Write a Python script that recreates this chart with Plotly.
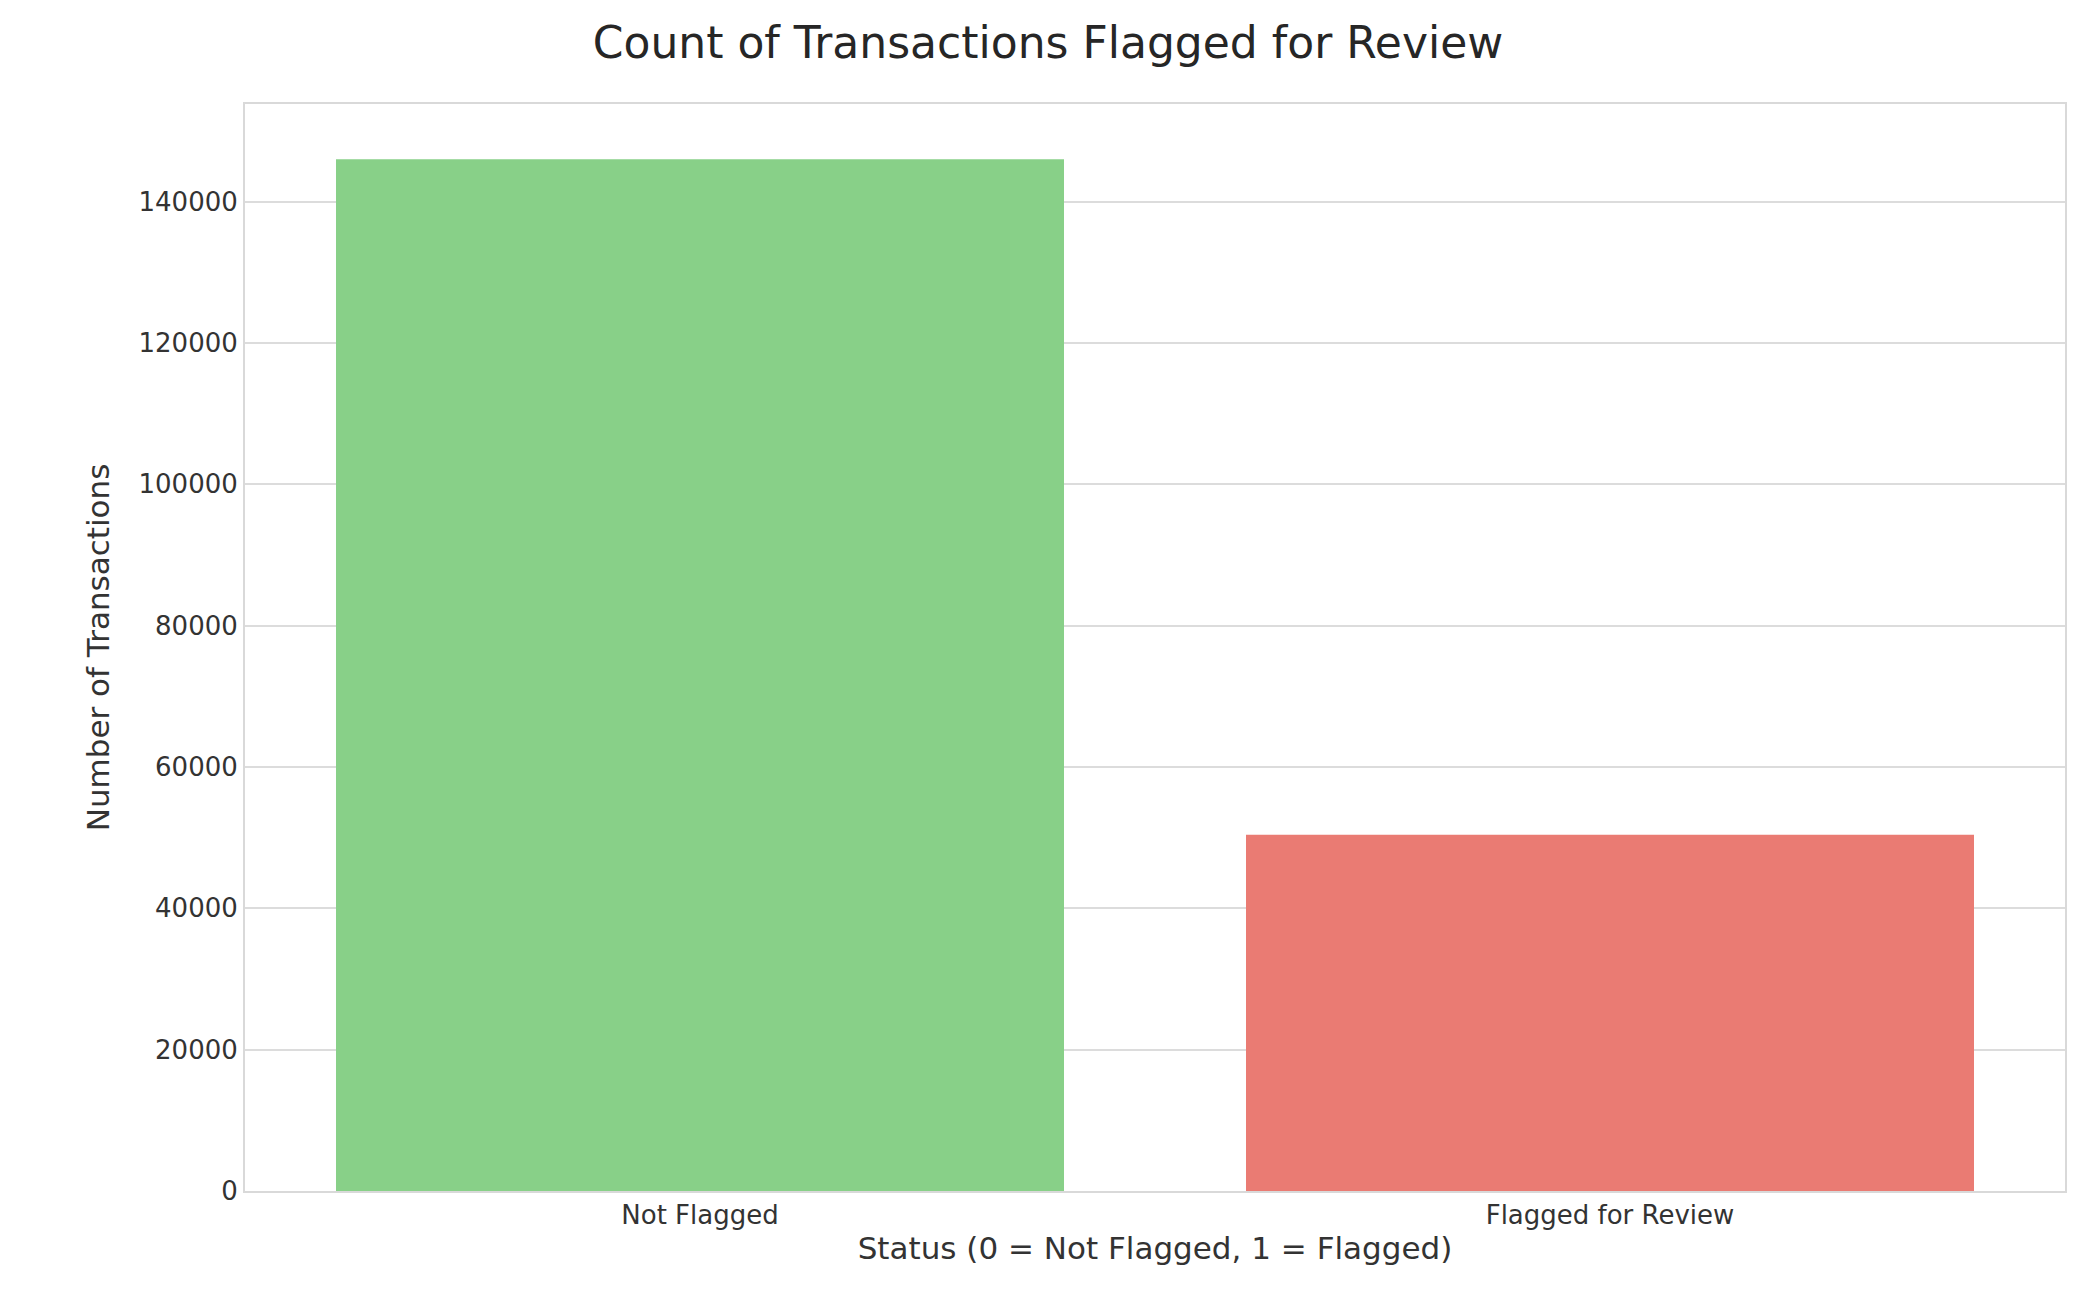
import plotly.graph_objects as go

categories = ["Not Flagged", "Flagged for Review"]
counts = [146000, 50400]
colors = ["#88d088", "#ea7b73"]

fig = go.Figure(go.Bar(x=categories, y=counts, marker_color=colors,
                       marker_line_width=0, width=0.8))
font = "DejaVu Sans"
fig.update_layout(
    width=2080, height=1295, plot_bgcolor="white", paper_bgcolor="white",
    margin=dict(l=237, r=23, t=96, b=112),
    font=dict(family=font, size=26, color="#333333"),
    title=dict(text="Count of Transactions Flagged for Review", x=0.5, xanchor="center",
               y=0.985, yanchor="top", font=dict(size=44, color="#262626")),
    showlegend=False, bargap=0.2,
)
fig.update_xaxes(title=dict(text="Status (0 = Not Flagged, 1 = Flagged)", standoff=8),
                 showline=True, linecolor="#d9d9d9", linewidth=2, mirror=True,
                 ticks="", showgrid=False)
fig.update_yaxes(title=dict(text="Number of Transactions", standoff=20),
                 range=[0, 153800], tickvals=list(range(0, 140001, 20000)),
                 tickformat="d", showgrid=True, gridcolor="#dcdcdc", gridwidth=2,
                 showline=True, linecolor="#d9d9d9", linewidth=2, mirror=True,
                 zeroline=False, ticks="")
fig.write_html("out.html")
